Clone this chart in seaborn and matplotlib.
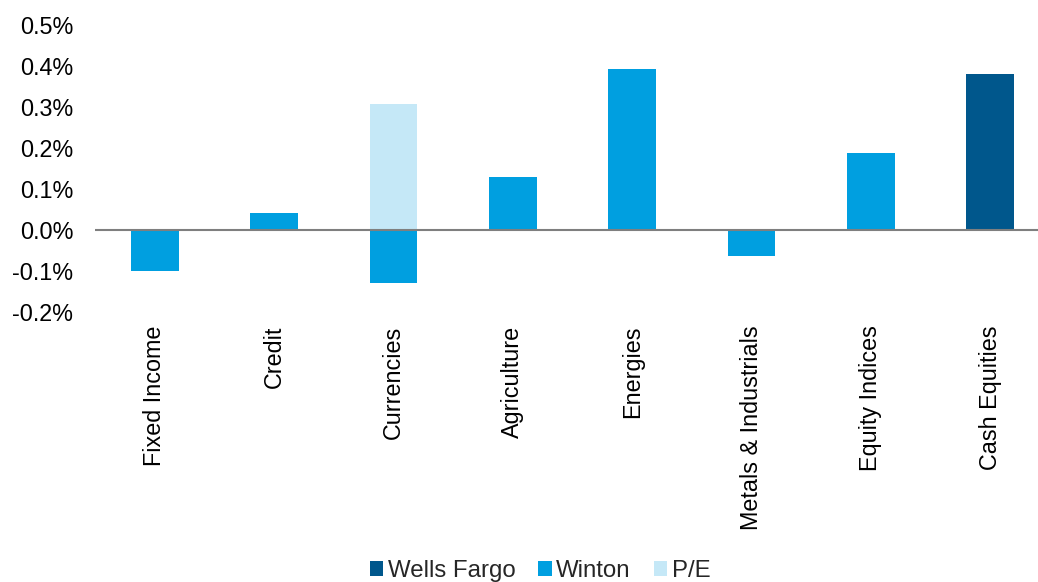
import pandas as pd
import matplotlib.pyplot as plt
import seaborn as sns
from matplotlib.patches import Patch
from matplotlib.ticker import FuncFormatter

categories = ['Fixed Income', 'Credit', 'Currencies', 'Agriculture', 'Energies',
              'Metals & Industrials', 'Equity Indices', 'Cash Equities']

# contribution in percent, one entry per series
wells_fargo_cats = ['Cash Equities']
wells_fargo_vals = [0.380]

winton_cats = ['Fixed Income', 'Credit', 'Currencies', 'Agriculture', 'Energies',
               'Metals & Industrials', 'Equity Indices']
winton_vals = [-0.100, 0.041, -0.130, 0.129, 0.393, -0.064, 0.188]

pe_cats = ['Currencies']
pe_vals = [0.307]

series_names = ['Wells Fargo', 'Winton', 'P/E']
colors = {'Wells Fargo': '#00578C', 'Winton': '#009FE0', 'P/E': '#C5E8F7'}

yticks = [-0.2, -0.1, 0.0, 0.1, 0.2, 0.3, 0.4, 0.5]

sns.set_theme(style='white')
plt.rcParams['font.family'] = ['Liberation Sans', 'DejaVu Sans']

fig = plt.figure(figsize=(10.38, 5.82), dpi=100)
ax = fig.add_axes([95 / 1038, 1 - 312 / 582, 955 / 1038, 287 / 582])

data = {
    'Wells Fargo': (wells_fargo_cats, wells_fargo_vals),
    'Winton': (winton_cats, winton_vals),
    'P/E': (pe_cats, pe_vals),
}
for name in ['P/E', 'Winton', 'Wells Fargo']:
    cats, vals = data[name]
    df = pd.DataFrame({'category': cats, 'value': vals})
    sns.barplot(data=df, x='category', y='value', order=categories,
                color=colors[name], saturation=1, width=0.4,
                linewidth=0, errorbar=None, ax=ax)

ax.axhline(0, color='#7f7f7f', lw=1.5, zorder=3)
ax.set_xlim(-0.5, len(categories) - 0.5)
ax.set_ylim(-0.2, 0.5)
ax.set_yticks(yticks)
ax.yaxis.set_major_formatter(FuncFormatter(lambda v, p: f'{v:.1f}%'))
ax.set_xlabel('')
ax.set_ylabel('')
for s in ax.spines.values():
    s.set_visible(False)
ax.tick_params(axis='both', length=0, labelsize=16.8, colors='black')
ax.tick_params(axis='y', pad=15.5)
ax.tick_params(axis='x', pad=9.8)
ax.set_xticks(range(len(categories)))
ax.set_xticklabels(categories, rotation=90, va='top', ha='center')

handles = [Patch(facecolor=colors[n], edgecolor='none') for n in series_names]
fig.legend(handles, series_names, loc='center', bbox_to_anchor=(540 / 1038, 1 - 571 / 582),
           ncol=3, frameon=False, fontsize=17.3, handlelength=0.55, handleheight=0.55,
           handletextpad=0.2, columnspacing=0.95, borderaxespad=0)

fig.savefig('out.png', dpi=100)
